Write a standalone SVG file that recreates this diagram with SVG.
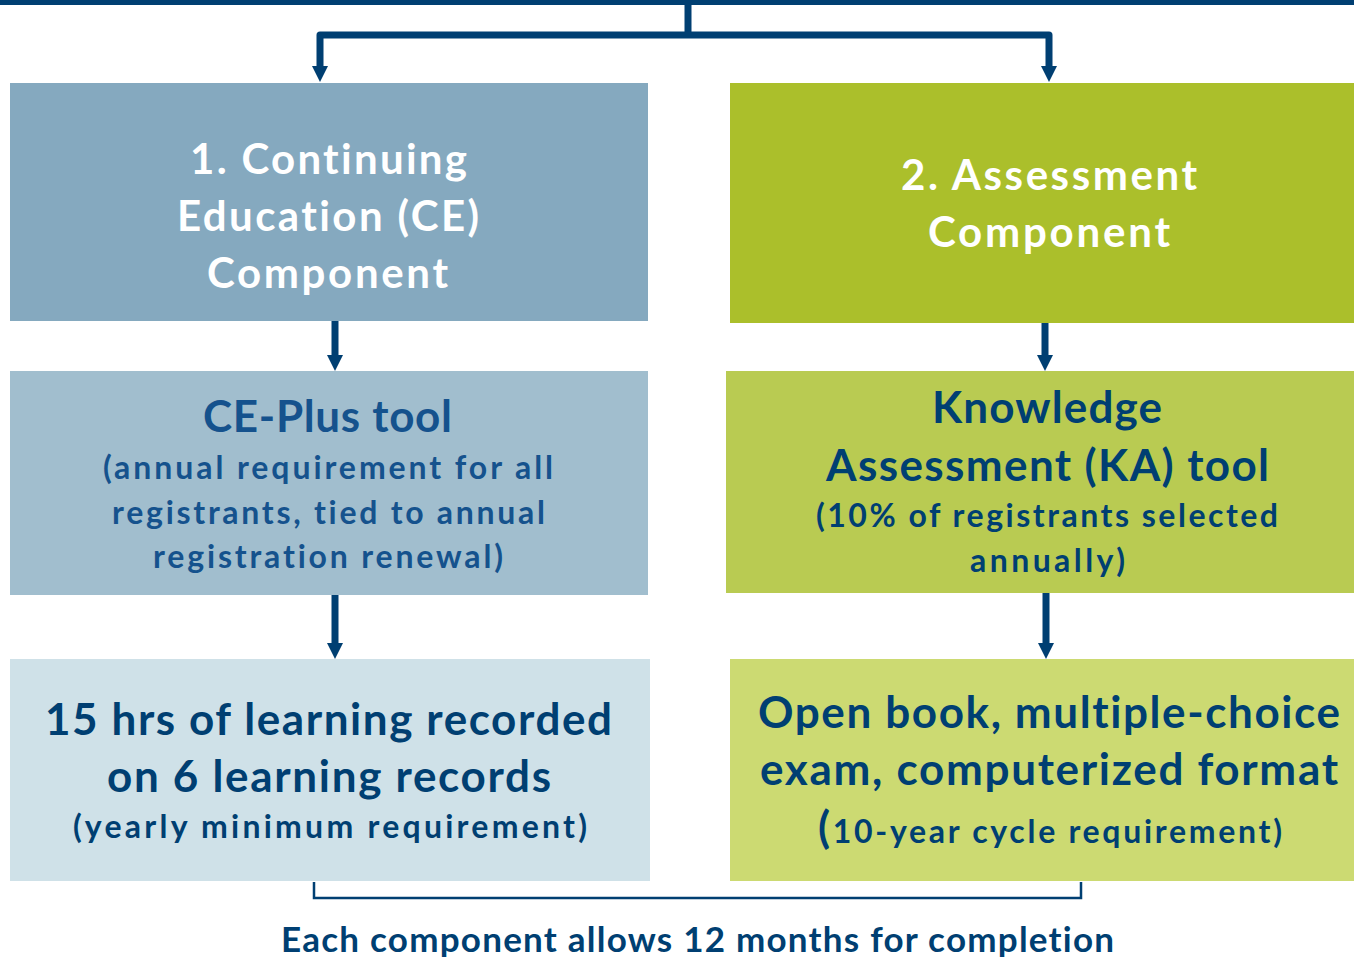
<svg xmlns="http://www.w3.org/2000/svg" width="1354" height="957" viewBox="0 0 1354 957">
<defs>
<style>
text{font-family:Lato,"Open Sans","Liberation Sans",sans-serif;font-weight:700;text-anchor:middle;font-variant-ligatures:none}
.w{fill:#ffffff;font-size:42px}
.h{fill:#003f72;font-size:44px}
.hc{fill:#15528d;font-size:44px}
.s{fill:#003f72;font-size:32px}
.sc{fill:#15528d;font-size:32px}
.con{fill:none;stroke:#003f72;stroke-width:7;stroke-linejoin:round}
.br{fill:none;stroke:#003f72;stroke-width:2.5}
</style>
<marker id="ah" viewBox="0 0 16 16" markerWidth="16" markerHeight="16" markerUnits="userSpaceOnUse" refX="2" refY="8" orient="auto">
<path d="M0,0 L16,8 L0,16 z" fill="#003f72"/>
</marker>
</defs>
<rect width="1354" height="957" fill="#ffffff"/>
<g id="connectors">
<rect x="0" y="0" width="1354" height="5" fill="#003f72"/>
<path class="con" d="M688,3 V35"/>
<path class="con" d="M688,35 H320 V68" marker-end="url(#ah)"/>
<path class="con" d="M688,35 H1049 V68" marker-end="url(#ah)"/>
<path class="con" d="M335,321 V357" marker-end="url(#ah)"/>
<path class="con" d="M1045,323 V357" marker-end="url(#ah)"/>
<path class="con" d="M335,595 V645" marker-end="url(#ah)"/>
<path class="con" d="M1046,593 V645" marker-end="url(#ah)"/>
<path class="br" d="M314,882 V898 H1081 V882"/>
</g>
<g id="ce-component">
<rect x="10" y="83" width="638" height="238" fill="#85a9bf"/>
<text class="w" x="328.5" y="174" textLength="277">1. Continuing</text>
<text class="w" x="328" y="231" textLength="302">Education (CE)</text>
<text class="w" x="327.5" y="288" textLength="241">Component</text>
</g>
<g id="assessment-component">
<rect x="730" y="83" width="624" height="240" fill="#abbf2b"/>
<text class="w" x="1049" y="190" textLength="296">2. Assessment</text>
<text class="w" x="1049" y="247" textLength="242">Component</text>
</g>
<g id="ce-plus">
<rect x="10" y="371" width="638" height="224" fill="#a1bece"/>
<text class="hc" x="327.5" y="432" textLength="249">CE-Plus tool</text>
<text class="sc" x="328" y="479" textLength="450">(annual requirement for all</text>
<text class="sc" x="328.5" y="524" textLength="433">registrants, tied to annual</text>
<text class="sc" x="328" y="568" textLength="350">registration renewal)</text>
</g>
<g id="ka-tool">
<rect x="726" y="371" width="628" height="222" fill="#b9cb52"/>
<text class="h" x="1047" y="423" textLength="230">Knowledge</text>
<text class="h" x="1047.5" y="481" textLength="443">Assessment (KA) tool</text>
<text class="s" x="1047" y="527" textLength="462">(10% of registrants selected</text>
<text class="s" x="1047.5" y="572" textLength="155">annually)</text>
</g>
<g id="ce-requirement">
<rect x="10" y="659" width="640" height="222" fill="#cfe1e8"/>
<text class="h" x="328.5" y="735" textLength="567">15 hrs of learning recorded</text>
<text class="h" x="329" y="792" textLength="444">on 6 learning records</text>
<text class="s" x="330" y="838" textLength="514">(yearly minimum requirement)</text>
</g>
<g id="ka-requirement">
<rect x="730" y="659" width="624" height="222" fill="#ccda72"/>
<text class="h" x="1049" y="728" textLength="582">Open book, multiple-choice</text>
<text class="h" x="1049" y="785" textLength="578">exam, computerized format</text>
<text class="s" x="1050" y="843" textLength="464"><tspan font-size="44">(</tspan>10-year cycle requirement)</text>
</g>
<g id="footer">
<text x="697.5" y="952" font-size="35" fill="#003f72" textLength="833">Each component allows 12 months for completion</text>
</g>
</svg>
